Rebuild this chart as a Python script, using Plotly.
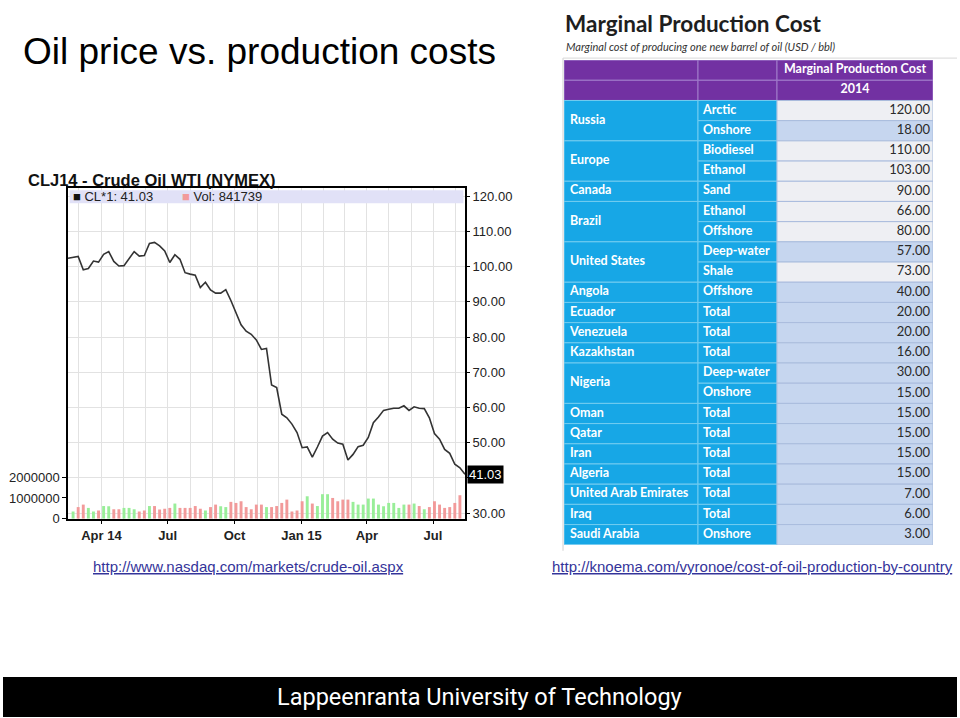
import plotly.graph_objects as go
import pandas as pd

# weekly WTI close (USD/bbl)
weeks = pd.date_range("2014-02-14", periods=79, freq="7D")
price = [102.4, 102.6, 102.9, 99.1, 99.5, 101.6, 101.3, 103.5, 104.3, 101.5,
         100.2, 100.3, 102.2, 104.3, 103.0, 103.2, 106.6, 106.9, 105.9, 104.5,
         101.2, 103.4, 102.1, 98.3, 97.9, 97.6, 94.1, 95.6, 93.4, 92.5,
         92.5, 93.5, 90.4, 86.7, 83.5, 81.7, 80.8, 79.2, 76.5, 76.8,
         66.4, 65.7, 58.1, 57.1, 55.3, 52.9, 48.6, 48.8, 45.9, 48.8,
         51.9, 52.9, 51.0, 49.9, 49.6, 45.1, 46.7, 48.9, 49.3, 51.5,
         55.7, 57.3, 59.2, 59.5, 59.8, 59.8, 60.5, 59.2, 60.2, 59.8,
         59.7, 57.1, 52.6, 51.0, 48.1, 47.0, 43.9, 42.9, 41.03]

# weekly volume (millions), bars visible from the 2nd week to the 78th
vol_weeks = weeks[1:78]
volume = [0.35, 0.56, 0.68, 0.52, 0.35, 0.40, 0.61, 0.60, 0.45, 0.45,
          0.52, 0.52, 0.45, 0.35, 0.40, 0.61, 0.61, 0.44, 0.48, 0.52,
          0.73, 0.52, 0.52, 0.52, 0.61, 0.48, 0.40, 0.56, 0.68, 0.60,
          0.56, 0.81, 0.76, 0.84, 0.56, 0.45, 0.68, 0.68, 0.56, 0.56,
          0.61, 0.76, 0.92, 0.35, 0.40, 0.84, 1.08, 0.73, 0.61, 1.18,
          1.18, 1.00, 0.84, 0.92, 0.92, 0.81, 0.68, 0.68, 0.97, 0.97,
          0.68, 0.60, 0.76, 0.76, 0.52, 0.68, 0.68, 0.73, 0.61, 0.45,
          0.56, 0.84, 0.68, 0.52, 0.56, 0.76, 1.13]
# g = up week, p = down week
updown = ("gppggpggpp" "gggppgpppp" "gpppppgppg" "gpppppppgp"
          "ppppppgpgg" "gppppggggg" "ggggggpgpg" "ppppppp")

x_tickvals = ["2014-04-01", "2014-07-01", "2014-10-01",
              "2015-01-01", "2015-04-01", "2015-07-01"]
x_ticktext = ["Apr 14", "Jul", "Oct", "Jan 15", "Apr", "Jul"]
price_ticks = [30, 40, 50, 60, 70, 80, 90, 100, 110, 120]
vol_ticks = [0, 1000000, 2000000]

# knoema marginal production cost table
header_top = ["", "", "Marginal Production Cost"]
header_sub = ["", "", "2014"]
countries = ["Russia", "Russia", "Europe", "Europe", "Canada", "Brazil", "Brazil",
             "United States", "United States", "Angola", "Ecuador", "Venezuela",
             "Kazakhstan", "Nigeria", "Nigeria", "Oman", "Qatar", "Iran", "Algeria",
             "United Arab Emirates", "Iraq", "Saudi Arabia"]
kinds = ["Arctic", "Onshore", "Biodiesel", "Ethanol", "Sand", "Ethanol", "Offshore",
         "Deep-water", "Shale", "Offshore", "Total", "Total", "Total", "Deep-water",
         "Onshore", "Total", "Total", "Total", "Total", "Total", "Total", "Onshore"]
cost_2014 = [120, 18, 110, 103, 90, 66, 80, 57, 73, 40, 20, 20, 16, 30, 15,
             15, 15, 15, 15, 7, 6, 3]

FONT = "Liberation Sans, Arial, sans-serif"
TFONT = "Lato, Noto Sans, sans-serif"
GRID = "#e2e2e2"
BLUE = "#17a7e6"
PURPLE = "#7231a2"

# the photo squeezes the page height a little, so the figure is a bit taller
# than the slide and positions are given in slide pixels (960 x 718)
W, H = 960, 727
def fx(x):
    return x / 960
def fy(y):
    return 1 - y / 718

fig = go.Figure()

bar_colors = ["#99ee99" if c == "g" else "#f29a9a" for c in updown]
fig.add_trace(go.Bar(x=vol_weeks, y=[v * 1e6 for v in volume], marker_color=bar_colors,
                     marker_line_width=0, width=4 * 86400000, xaxis="x", yaxis="y",
                     showlegend=False, hoverinfo="skip"))
fig.add_trace(go.Scatter(x=weeks, y=price, mode="lines", line=dict(color="#333333", width=1.6),
                         xaxis="x", yaxis="y2", showlegend=False))

# ---- table drawn as cells (bars) on its own axes: one unit per row
col_w = [134, 79, 156]
col_x = [0, 134, 213]
n_head = 2
c_base, c_len, c_mid, c_fill, c_line = [], [], [], [], []

def add_cell(col, row0, nrows, fill, line):
    c_base.append(col_x[col])
    c_len.append(col_w[col])
    c_mid.append(row0 + nrows / 2)
    c_fill.append((fill, nrows))
    c_line.append(line)

for r in range(n_head):
    for c in range(3):
        add_cell(c, r, 1, PURPLE, "#a07ccb")

groups = []
for i, name in enumerate(countries):
    if i == 0 or countries[i - 1] != name:
        groups.append([name, i, 1])
    else:
        groups[-1][2] += 1
for name, start, n in groups:
    add_cell(0, n_head + start, n, BLUE, "#72ccf0")
for i, k in enumerate(kinds):
    add_cell(1, n_head + i, 1, BLUE, "#72ccf0")
for i, v in enumerate(cost_2014):
    add_cell(2, n_head + i, 1, "#eeeff3" if v >= 60 else "#c6d6ef", "#a9bcdd")

fig.add_trace(go.Bar(orientation="h", y=c_mid, x=c_len, base=c_base,
                     width=[n for _, n in c_fill],
                     marker=dict(color=[f for f, _ in c_fill], line=dict(color=c_line, width=1)),
                     xaxis="x3", yaxis="y3", showlegend=False, hoverinfo="skip"))

fig.add_trace(go.Scatter(x=[col_x[2] + col_w[2] / 2] * 2, y=[0.5, 1.5],
                         text=["<b>%s</b>" % header_top[2], "<b>%s</b>" % header_sub[2]],
                         mode="text", textposition="middle center",
                         textfont=dict(family=TFONT, size=12.5, color="white"),
                         xaxis="x3", yaxis="y3", showlegend=False, hoverinfo="skip"))
fig.add_trace(go.Scatter(x=[6] * len(groups), y=[n_head + s + n / 2 for _, s, n in groups],
                         text=["<b>%s</b>" % g[0] for g in groups],
                         mode="text", textposition="middle right",
                         textfont=dict(family=TFONT, size=12.5, color="white"),
                         xaxis="x3", yaxis="y3", showlegend=False, hoverinfo="skip"))
fig.add_trace(go.Scatter(x=[col_x[1] + 5] * len(kinds), y=[n_head + i + 0.5 for i in range(len(kinds))],
                         text=["<b>%s</b>" % k for k in kinds],
                         mode="text", textposition="middle right",
                         textfont=dict(family=TFONT, size=12.5, color="white"),
                         xaxis="x3", yaxis="y3", showlegend=False, hoverinfo="skip"))
fig.add_trace(go.Scatter(x=[col_x[2] + col_w[2] - 3] * len(cost_2014),
                         y=[n_head + i + 0.5 for i in range(len(cost_2014))],
                         text=["%.2f" % v for v in cost_2014],
                         mode="text", textposition="middle left",
                         textfont=dict(family=TFONT, size=13, color="#2a2a2a"),
                         xaxis="x3", yaxis="y3", showlegend=False, hoverinfo="skip"))

n_rows = n_head + len(countries)

fig.update_layout(
    width=W, height=H, margin=dict(l=0, r=0, t=0, b=0),
    paper_bgcolor="white", plot_bgcolor="white", barmode="overlay",
    font=dict(family=FONT, size=13, color="#222222"),
    xaxis=dict(type="date", domain=[fx(68), fx(465)], range=["2014-02-14", "2015-08-14"],
               tickvals=x_tickvals, ticktext=["<b>%s</b>" % t for t in x_ticktext],
               tickfont=dict(size=13, color="#222222"),
               showgrid=True, gridcolor=GRID,
               minor=dict(dtick="M1", tick0="2014-01-01", showgrid=True, gridcolor=GRID),
               ticks="outside", ticklen=4, tickcolor="black",
               showline=True, linecolor="black", linewidth=1.5, mirror=True, zeroline=False),
    yaxis=dict(domain=[fy(518), fy(188)], range=[0, 15.9e6],
               tickvals=vol_ticks, ticktext=[str(v) for v in vol_ticks],
               ticks="outside", ticklen=4, tickcolor="black", showgrid=False,
               showline=True, linecolor="black", linewidth=1.5, mirror=True, zeroline=False),
    yaxis2=dict(overlaying="y", side="right", range=[28.43, 122.28],
                tickvals=price_ticks,
                ticktext=["" if v == 40 else "%.2f" % v for v in price_ticks],
                ticks="outside", ticklen=4, tickcolor="black",
                showgrid=True, gridcolor=GRID, zeroline=False, showline=False),
    xaxis3=dict(domain=[fx(564), fx(933)], range=[0, sum(col_w)], visible=False,
                fixedrange=True, anchor="y3"),
    yaxis3=dict(domain=[fy(544), fy(60)], range=[n_rows, 0], visible=False,
                fixedrange=True, anchor="x3"),
    shapes=[
        dict(type="rect", xref="x domain", yref="y2", x0=0.004, x1=0.996, y0=118, y1=121.7,
             fillcolor="#e1e1f7", line_width=0, layer="above"),
        dict(type="line", xref="paper", yref="paper", x0=fx(563), x1=fx(563),
             y0=fy(58), y1=fy(550), line=dict(color="#d0d0d0", width=1)),
        dict(type="line", xref="paper", yref="paper", x0=fx(563), x1=fx(957),
             y0=fy(58), y1=fy(58), line=dict(color="#d8d8d8", width=1)),
        dict(type="rect", xref="paper", yref="paper", x0=fx(3), x1=fx(957),
             y0=fy(716), y1=fy(676), fillcolor="black", line_width=0),
    ],
    annotations=[
        dict(text="Oil price vs. production costs", xref="paper", yref="paper",
             x=fx(21), y=fy(51), xanchor="left", yanchor="middle", showarrow=False,
             font=dict(family=FONT, size=37, color="black")),
        dict(text="<b>CLJ14 - Crude Oil WTI (NYMEX)</b>", xref="paper", yref="paper",
             x=fx(26), y=fy(180), xanchor="left", yanchor="middle", showarrow=False,
             font=dict(family=FONT, size=16.5, color="#111111")),
        dict(text='<span style="color:#111111">■</span> CL*1: 41.03', xref="x domain", yref="y2",
             x=0.008, y=119.9, xanchor="left", yanchor="middle", showarrow=False,
             font=dict(family=FONT, size=13, color="#222222")),
        dict(text='<span style="color:#f29a9a">■</span> Vol: 841739', xref="x domain", yref="y2",
             x=0.283, y=119.9, xanchor="left", yanchor="middle", showarrow=False,
             font=dict(family=FONT, size=13, color="#222222")),
        dict(text="41.03", xref="x domain", yref="y2", x=1.006, y=41.03, xanchor="left",
             yanchor="middle", showarrow=False, bgcolor="black", borderpad=1,
             font=dict(family=FONT, size=13, color="white")),
        dict(text="<b>Marginal Production Cost</b>", xref="paper", yref="paper",
             x=fx(563), y=fy(23), xanchor="left", yanchor="middle", showarrow=False,
             font=dict(family=TFONT, size=22.5, color="#1e1e1e")),
        dict(text="<i>Marginal cost of producing one new barrel of oil (USD / bbl)</i>",
             xref="paper", yref="paper", x=fx(564), y=fy(46), xanchor="left",
             yanchor="middle", showarrow=False, font=dict(family=TFONT, size=11, color="#333333")),
        dict(text="<u>http://www.nasdaq.com/markets/crude-oil.aspx</u>", xref="paper", yref="paper",
             x=fx(248), y=fy(566), xanchor="center", yanchor="middle", showarrow=False,
             font=dict(family=FONT, size=15, color="#34349a")),
        dict(text="<u>http://knoema.com/vyronoe/cost-of-oil-production-by-country</u>",
             xref="paper", yref="paper", x=fx(752), y=fy(566), xanchor="center",
             yanchor="middle", showarrow=False, font=dict(family=FONT, size=15, color="#34349a")),
        dict(text="Lappeenranta University of Technology", xref="paper", yref="paper",
             x=fx(479), y=fy(696), xanchor="center", yanchor="middle", showarrow=False,
             font=dict(family="Roboto, Liberation Sans, sans-serif", size=23.5, color="white")),
    ],
)

# drop the default 8px body margin so the figure starts at the window corner
fig.write_html("out.html", config={"displayModeBar": False},
               post_script="document.body.style.margin='0';")
